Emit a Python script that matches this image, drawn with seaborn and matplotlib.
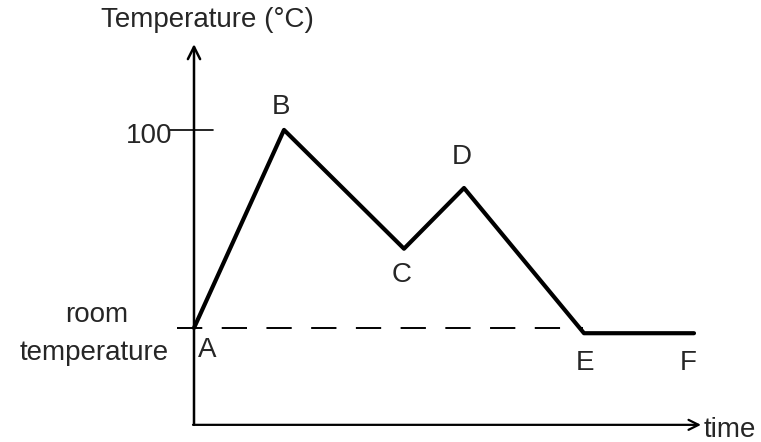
# heating / cooling curve sketch
import matplotlib
matplotlib.use("Agg")
import matplotlib.pyplot as plt
import seaborn as sns
import pandas as pd

# data
points = ["A", "B", "C", "D", "E", "F"]
time = [0, 9, 21, 27, 39, 50]
temp = [25, 100, 55, 78, 23, 23]
room_temp = 25

data = pd.DataFrame({"time": time, "temp": temp, "point": points})

sns.set_style("white")
plt.rcParams["font.family"] = ["Liberation Sans", "DejaVu Sans"]

fig = plt.figure(figsize=(7.61, 4.42), dpi=100)
ax = fig.add_axes([0, 0, 1, 1])
ax.set_xlim(-19.4, 56.7)
ax.set_ylim(-18.2, 149.2)
ax.axis("off")

# the curve
sns.lineplot(data=data, x="time", y="temp", ax=ax, color="black",
             linewidth=3, sort=False)

# room temperature dashed line
ax.plot([-1.7, 38.9], [room_temp, room_temp], color="black",
        linewidth=1.4, dashes=(13, 10))

# axes with arrows
x0, y0 = 0, -11.7
ax.annotate("", xy=(0, 132.5), xytext=(x0, y0),
            arrowprops=dict(arrowstyle="->", color="black", lw=1.8,
                            mutation_scale=22, shrinkA=0, shrinkB=0))
ax.annotate("", xy=(50.7, y0), xytext=(x0 - 0.1, y0),
            arrowprops=dict(arrowstyle="->", color="black", lw=1.6,
                            mutation_scale=18, shrinkA=0, shrinkB=0))

# tick at 100
ax.plot([-2.4, 1.9], [100, 100], color="black", linewidth=1.2)

fs = 20
ax.text(1.3, 141.7, "Temperature (°C)", fontsize=fs, ha="center", va="center")
ax.text(-2.2, 97.7, "100", fontsize=fs, ha="right", va="center")
ax.text(-9.7, 29.9, "room", fontsize=fs, ha="center", va="center")
ax.text(-10.0, 15.5, "temperature", fontsize=fs, ha="center", va="center")
ax.text(51.0, -13.8, "time", fontsize=fs, ha="left", va="center")

# point labels
label_pos = {"A": (1.3, 16.7), "B": (8.7, 108.7), "C": (20.8, 45.1),
             "D": (26.8, 89.8), "E": (39.1, 11.7), "F": (49.4, 11.7)}
for p in points:
    lx, ly = label_pos[p]
    ax.text(lx, ly, p, fontsize=fs, ha="center", va="center")

fig.savefig("out.png", dpi=100)
